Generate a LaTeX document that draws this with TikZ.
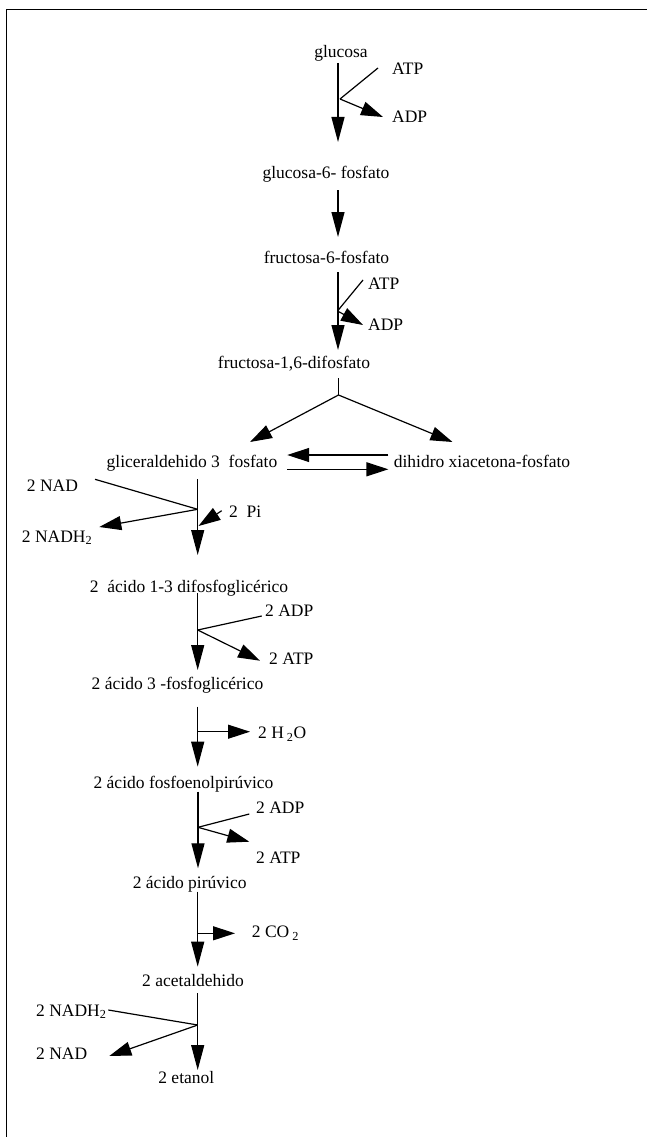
\documentclass[tikz,border=0pt]{standalone}
\usepackage{fontspec}
\setmainfont{Liberation Serif}
\usetikzlibrary{arrows.meta}
\begin{document}
\begin{tikzpicture}[x=1pt,y=-1pt,
  lbl/.style={font=\fontsize{17.5}{21}\selectfont, inner sep=0pt, anchor=base},
  lblw/.style={lbl, anchor=base west},
  flow/.style={line width=1.2pt, -{Triangle[length=25pt,width=13pt]}},
  side/.style={line width=1.2pt, -{Triangle[length=22pt,width=14pt]}},
  plain/.style={line width=1.2pt},
  frame/.style={line width=1.8pt}]
\useasboundingbox (0,0) rectangle (647,1137);
% frame
\coordinate (fbl) at (6.5,1137);
\coordinate (ftl) at (6.5,9.5);
\coordinate (ftr) at (647,9.5);
\draw[frame] (fbl) -- (ftl) -- (ftr);

% ---------- labels ----------
\node[lbl] (glc) at (341,58) {glucosa};
\node[lblw] (atp1) at (392,75) {ATP};
\node[lblw] (adp1) at (392,122) {ADP};
\node[lbl] (g6p) at (326,178) {glucosa-6- fosfato};
\node[lbl] (f6p) at (326.5,263) {fructosa-6-fosfato};
\node[lblw] (atp2) at (368,289) {ATP};
\node[lblw] (adp2) at (368,330) {ADP};
\node[lbl] (f16) at (294,368) {fructosa-1,6-difosfato};
\node[lbl] (gap) at (192,467) {gliceraldehido 3~~fosfato};
\node[lbl] (dhap) at (482,467) {dihidro xiacetona-fosfato};
\node[lblw] (nad1) at (26.7,491) {2 NAD};
\node[lblw] (pi) at (229,517) {2~~Pi};
\node[lblw] (nadh1) at (21.7,542) {2 NADH\textsubscript{2}};
\node[lbl] (bpg) at (189,592) {2~~ácido 1-3 difosfoglicérico};
\node[lblw] (adp3) at (265,616.5) {2 ADP};
\node[lblw] (atp3) at (269,664) {2 ATP};
\node[lbl] (pga) at (177.5,689) {2 ácido 3 -fosfoglicérico};
\node[lblw] (h2o) at (258,738.5) {2 H\,\textsubscript{2}O};
\node[lbl] (pep) at (183.5,788.5) {2 ácido fosfoenolpirúvico};
\node[lblw] (adp4) at (256,813.5) {2 ADP};
\node[lblw] (atp4) at (256,863) {2 ATP};
\node[lbl] (pyr) at (189.7,888) {2 ácido pirúvico};
\node[lblw] (co2) at (251.7,937.5) {2 CO\,\textsubscript{2}};
\node[lbl] (acet) at (193,986) {2 acetaldehido};
\node[lblw] (nadh2) at (36,1016) {2 NADH\textsubscript{2}};
\node[lblw] (nad2) at (36,1059.5) {2 NAD};
\node[lbl] (eth) at (186.3,1083.5) {2 etanol};

% ---------- connector points ----------
\coordinate (s1) at (338,63);   \coordinate (e1) at (338,142);
\coordinate (k1) at (340,99);
\coordinate (atp1p) at (378,68); \coordinate (adp1p) at (383,117);
\coordinate (s2) at (338,190);  \coordinate (e2) at (338,237);
\coordinate (s3) at (338,272);  \coordinate (e3) at (338,350);
\coordinate (k3) at (337.5,311);
\coordinate (atp2p) at (363,280); \coordinate (adp2p) at (363,325);
\coordinate (s4) at (338.5,378); \coordinate (k4) at (338.5,395);
\coordinate (gapp) at (250,442); \coordinate (dhapp) at (452.5,442);
\coordinate (r1) at (388.4,455); \coordinate (l1) at (287.2,455);
\coordinate (l2) at (287.2,469.3); \coordinate (r2) at (388.4,469.3);
\coordinate (s5) at (197.7,479.3); \coordinate (e5) at (197.7,555);
\coordinate (k5) at (197.7,509.3);
\coordinate (nad1p) at (95,479.3); \coordinate (nadh1p) at (99.3,527);
\coordinate (pip) at (221.7,510.7); \coordinate (pie) at (198.5,526);
\coordinate (s6) at (197.7,593.3); \coordinate (e6) at (197.7,670);
\coordinate (k6) at (197.7,630);
\coordinate (adp3p) at (261.7,616); \coordinate (atp3p) at (260,660.7);
\coordinate (s7) at (197.7,706.7); \coordinate (e7) at (197.7,766.7);
\coordinate (k7) at (197.7,731.7); \coordinate (h2op) at (250,731.7);
\coordinate (s8) at (198,791.7); \coordinate (e8) at (198,868.3);
\coordinate (k8) at (198,827.3);
\coordinate (adp4p) at (249.3,814); \coordinate (atp4p) at (249.3,841.7);
\coordinate (s9) at (197.7,891.7); \coordinate (e9) at (197.7,966.7);
\coordinate (k9) at (197.7,933.3); \coordinate (co2p) at (235,933.3);
\coordinate (s10) at (197.7,993.3); \coordinate (e10) at (197.7,1070);
\coordinate (k10) at (197.7,1025);
\coordinate (nadh2p) at (108.3,1010); \coordinate (nad2p) at (109.3,1056);

% ---------- connectors ----------
\draw[flow] (s1) -- (e1);
\draw[plain] (atp1p) -- (k1);
\draw[side] (k1) -- (adp1p);

\draw[flow] (s2) -- (e2);

\draw[flow] (s3) -- (e3);
\draw[plain] (atp2p) -- (k3);
\draw[side] (k3) -- (adp2p);

\draw[plain] (s4) -- (k4);
\draw[side] (k4) -- (gapp);
\draw[side] (k4) -- (dhapp);

\draw[side] (r1) -- (l1);
\draw[side] (l2) -- (r2);

\draw[flow] (s5) -- (e5);
\draw[plain] (nad1p) -- (k5);
\draw[side] (k5) -- (nadh1p);
\draw[side] (pip) -- (pie);

\draw[flow] (s6) -- (e6);
\draw[plain] (adp3p) -- (k6);
\draw[side] (k6) -- (atp3p);

\draw[flow] (s7) -- (e7);
\draw[side] (k7) -- (h2op);

\draw[flow] (s8) -- (e8);
\draw[plain] (adp4p) -- (k8);
\draw[side] (k8) -- (atp4p);

\draw[flow] (s9) -- (e9);
\draw[side] (k9) -- (co2p);

\draw[flow] (s10) -- (e10);
\draw[plain] (nadh2p) -- (k10);
\draw[side] (k10) -- (nad2p);
\end{tikzpicture}
\end{document}
